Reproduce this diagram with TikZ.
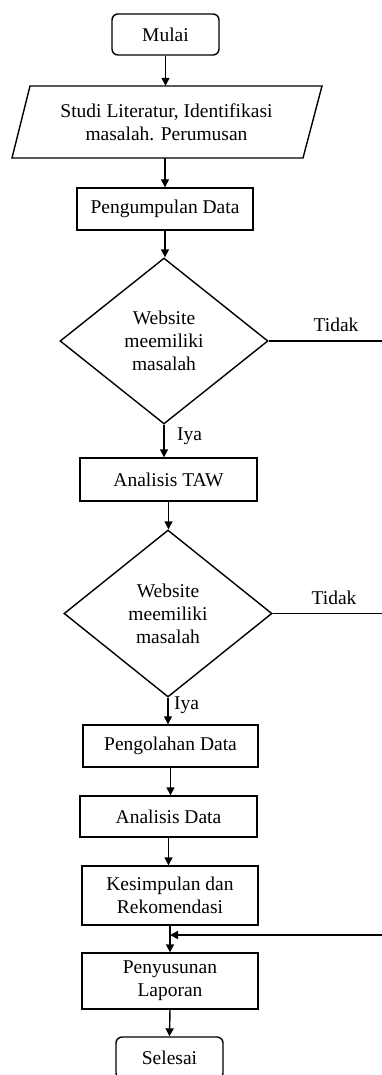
\documentclass[tikz,border=0pt]{standalone}
\usepackage{fontspec}
\setmainfont{Liberation Serif}
\usetikzlibrary{shapes.geometric,arrows.meta}
\begin{document}
\begin{tikzpicture}[x=1pt,y=-1pt,
  every node/.style={font=\fontsize{19.5}{23}\selectfont},
  line/.style={line width=1.4pt},
  arr/.style={line width=1.4pt,-{Triangle[length=8pt,width=8pt]}},
  procbox/.style={draw,line width=1.4pt,rectangle,inner sep=0pt,align=center},
  termbox/.style={draw,line width=1.4pt,rectangle,rounded corners=6pt,inner sep=0pt,align=center},
  decbox/.style={draw,line width=1.4pt,diamond,inner sep=0pt,align=center},
  lbl/.style={inner sep=0pt}]
\useasboundingbox (0,0) rectangle (382,1075);
\clip (0,0) rectangle (382,1075);
\fill[white] (0,0) rectangle (382,1075);

\node[termbox,minimum width=107pt,minimum height=41pt] (mulai) at (165.5,34.5) {Mulai};
\node[align=center,inner sep=0pt,minimum width=292pt,minimum height=72pt] (studi) at (166.5,122)
  {Studi Literatur, Identifikasi\\masalah. Perumusan};
\draw[line] (30,86) -- (322,86) -- (303,158) -- (12,158) -- cycle;
\node[procbox,minimum width=176pt,minimum height=42pt] (peng) at (165,209) {Pengumpulan Data};
\node[decbox,minimum width=208pt,minimum height=166pt] (d1) at (164,341) {Website\\meemiliki\\masalah};
\node[procbox,minimum width=177pt,minimum height=43pt] (taw) at (168.5,479.5) {Analisis TAW};
\node[decbox,minimum width=208pt,minimum height=167pt] (d2) at (168,613.5) {Website\\meemiliki\\masalah};
\node[procbox,minimum width=175pt,minimum height=42pt] (olah) at (170.5,746) {Pengolahan Data};
\node[procbox,minimum width=177pt,minimum height=41pt] (anal) at (168.5,816.5) {Analisis Data};
\node[procbox,minimum width=176pt,minimum height=59pt] (kes) at (170,895.5) {Kesimpulan dan\\Rekomendasi};
\node[procbox,minimum width=176pt,minimum height=56pt] (lap) at (170,981) {Penyusunan\\Laporan};
\node[termbox,minimum width=107pt,minimum height=42pt] (sel) at (169.5,1058) {Selesai};

\coordinate (r1) at (382,341);
\coordinate (r2) at (382,613.5);
\coordinate (fb) at (382,935);

\draw[arr] (mulai.south) -- (mulai.south |- studi.north);
\draw[arr] (studi.south -| peng.north) -- (peng.north);
\draw[arr] (peng.south) -- (peng.south |- d1.north);
\draw[arr] (d1.south) -- (d1.south |- taw.north);
\draw[arr] (taw.south) -- (taw.south |- d2.north);
\draw[arr] (d2.south) -- (d2.south |- olah.north);
\draw[arr] (olah.south) -- (olah.south |- anal.north);
\draw[arr] (anal.south) -- (anal.south |- kes.north);
\draw[arr] (kes.south) -- (lap.north);
\draw[arr] (lap.south) -- (sel.north);
\draw[line] (d1.east) -- (r1);
\draw[line] (d2.east) -- (r2);
\draw[arr] (fb) -- (kes.south |- fb);

\node[lbl] (t1) at (336,325) {Tidak};
\node[lbl] (t2) at (334,598) {Tidak};
\node[lbl,anchor=west] (i1) at (177,436) {Iya};
\node[lbl,anchor=west] (i2) at (174,705) {Iya};
\end{tikzpicture}
\end{document}
